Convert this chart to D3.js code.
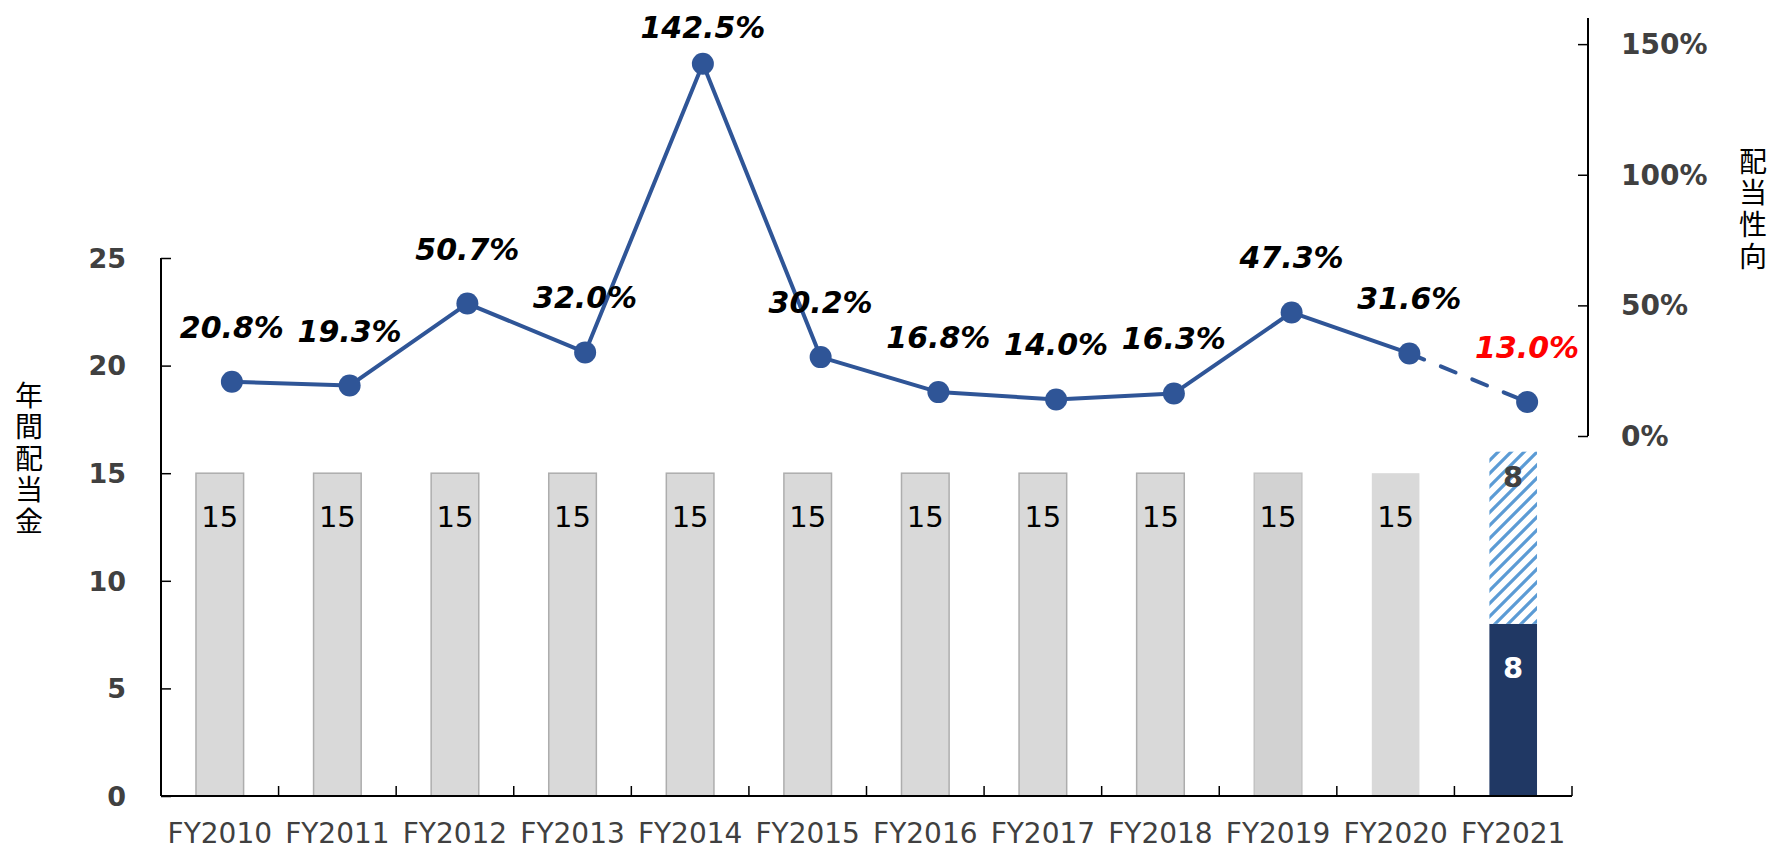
<!DOCTYPE html>
<html>
<head>
<meta charset="utf-8">
<script src="https://cdn.jsdelivr.net/npm/d3@7/dist/d3.min.js"></script>
<style>
  html, body { margin: 0; padding: 0; background: #fff; }
  svg { display: block; font-family: "DejaVu Sans", Verdana, sans-serif; }
</style>
</head>
<body>
<svg id="chart" width="1774" height="850"></svg>
<script>
// ---- data ----
const categories = ["FY2010","FY2011","FY2012","FY2013","FY2014","FY2015","FY2016","FY2017","FY2018","FY2019","FY2020","FY2021"];
const dividendPaid = [15,15,15,15,15,15,15,15,15,15,15,8];
const dividendForecast = [0,0,0,0,0,0,0,0,0,0,0,8];
const payoutRatio = [20.8,19.3,50.7,32.0,142.5,30.2,16.8,14.0,16.3,47.3,31.6,13.0];
const leftTicks = [0,5,10,15,20,25];
const rightTicks = [0,50,100,150];
const leftTitle = "年間配当金";
const rightTitle = "配当性向";

// ---- layout ----
const svg = d3.select("#chart");
const x = d3.scaleBand().domain(categories).range([161, 1572]).paddingInner(0).paddingOuter(0);
// secondary category scale used by the line series (slightly shifted, as in the original)
const x2 = d3.scaleBand().domain(categories).range([173, 1586]).paddingInner(0).paddingOuter(0);
const yL = d3.scaleLinear().domain([0, 25]).range([796, 258]);
const yR = d3.scaleLinear().domain([0, 160]).range([436, 18]);
const barW = x.bandwidth() * 0.405;
const cx = d => x(d) + x.bandwidth() / 2;
const cx2 = d => x2(d) + x2.bandwidth() / 2;

// hatch pattern
const defs = svg.append("defs");
const pat = defs.append("pattern").attr("id", "hatch").attr("patternUnits", "userSpaceOnUse")
  .attr("width", 13).attr("height", 13);
pat.append("rect").attr("width", 13).attr("height", 13).attr("fill", "#fff");
pat.append("path").attr("d", "M-4,4 L4,-4 M0,13 L13,0 M9,17 L17,9")
  .attr("stroke", "#5b9bd5").attr("stroke-width", 3.2);

// bar styles (by category)
function barFill(c, i) {
  if (i === categories.length - 1) return "#203864";
  if (c === "FY2019") return "#d2d2d2";
  return "#d9d9d9";
}
function barStroke(c, i) {
  if (i === categories.length - 1) return "none";
  if (c === "FY2020") return "none";
  if (c === "FY2019") return "#c3c3c3";
  return "#adadad";
}

// bars: paid
svg.append("g").selectAll("rect").data(categories).join("rect")
  .attr("x", d => cx(d) - barW / 2)
  .attr("y", (d, i) => yL(dividendPaid[i]))
  .attr("width", barW)
  .attr("height", (d, i) => yL(0) - yL(dividendPaid[i]))
  .attr("fill", barFill)
  .attr("stroke", barStroke)
  .attr("stroke-width", 1.5);

// bars: forecast (hatched)
svg.append("g").selectAll("rect").data(categories.filter((c, i) => dividendForecast[i] > 0)).join("rect")
  .attr("x", d => cx(d) - barW / 2)
  .attr("y", d => { const i = categories.indexOf(d); return yL(dividendPaid[i] + dividendForecast[i]); })
  .attr("width", barW)
  .attr("height", d => { const i = categories.indexOf(d); return yL(dividendPaid[i]) - yL(dividendPaid[i] + dividendForecast[i]); })
  .attr("fill", "url(#hatch)");

// bar labels
svg.append("g").selectAll("text").data(categories).join("text")
  .attr("x", cx)
  .attr("y", (d, i) => yL(dividendPaid[i]) + 54)
  .attr("text-anchor", "middle")
  .attr("font-size", 29)
  .attr("font-weight", (d, i) => i === categories.length - 1 ? "bold" : "normal")
  .attr("fill", (d, i) => i === categories.length - 1 ? "#ffffff" : "#000000")
  .text((d, i) => dividendPaid[i]);

svg.append("g").selectAll("text").data(categories.filter((c, i) => dividendForecast[i] > 0)).join("text")
  .attr("x", cx)
  .attr("y", d => { const i = categories.indexOf(d); return yL(dividendPaid[i] + dividendForecast[i]) + 35; })
  .attr("text-anchor", "middle")
  .attr("font-size", 29)
  .attr("font-weight", "bold")
  .attr("fill", "#404040")
  .text(d => dividendForecast[categories.indexOf(d)]);

// ---- axes ----
const axisColor = "#000";
// left axis
const gL = svg.append("g").attr("transform", "translate(161,0)")
  .call(d3.axisRight(yL).tickValues(leftTicks).tickSize(10).tickFormat(""));
gL.select(".domain").attr("d", `M0,${yL(25)}V${yL(0)}`).attr("stroke", axisColor).attr("stroke-width", 2);
gL.selectAll(".tick line").attr("stroke", axisColor).attr("stroke-width", 1.5);
svg.append("g").selectAll("text").data(leftTicks).join("text")
  .attr("x", 126).attr("y", d => yL(d)).attr("dy", "0.36em")
  .attr("text-anchor", "end").attr("font-size", 27).attr("font-weight", "bold").attr("fill", "#404040")
  .text(d => d);

// right axis
const gR = svg.append("g").attr("transform", "translate(1588,0)")
  .call(d3.axisLeft(yR).tickValues(rightTicks).tickSize(10).tickFormat(""));
gR.select(".domain").attr("d", `M0,${yR(160)}V${yR(0)}`).attr("stroke", axisColor).attr("stroke-width", 2);
gR.selectAll(".tick line").attr("stroke", axisColor).attr("stroke-width", 1.5);
svg.append("g").selectAll("text").data(rightTicks).join("text")
  .attr("x", 1621).attr("y", d => yR(d)).attr("dy", "0.36em")
  .attr("text-anchor", "start").attr("font-size", 28).attr("font-weight", "bold").attr("fill", "#404040")
  .text(d => d + "%");

// bottom axis
const boundaries = categories.slice(1).map(c => x(c)).concat([x.range()[1]]);
const gB = svg.append("g");
gB.append("path").attr("d", `M161,${yL(0)}H${x.range()[1]}`).attr("stroke", axisColor).attr("stroke-width", 2).attr("fill", "none");
gB.selectAll("line").data(boundaries).join("line")
  .attr("x1", d => d).attr("x2", d => d)
  .attr("y1", yL(0)).attr("y2", yL(0) - 10)
  .attr("stroke", axisColor).attr("stroke-width", 1.5);
gB.selectAll("text").data(categories).join("text")
  .attr("x", cx).attr("y", 843)
  .attr("text-anchor", "middle").attr("font-size", 28).attr("fill", "#404040")
  .text(d => d);

// axis titles (vertical writing)
svg.append("text")
  .attr("x", 29).attr("y", 381)
  .style("writing-mode", "vertical-rl").style("text-orientation", "upright")
  .attr("letter-spacing", 3.5)
  .attr("font-size", 28).attr("font-family", "'Noto Sans CJK JP', sans-serif").attr("fill", "#000")
  .text(leftTitle);
svg.append("text")
  .attr("x", 1753).attr("y", 147)
  .style("writing-mode", "vertical-rl").style("text-orientation", "upright")
  .attr("letter-spacing", 3.7)
  .attr("font-size", 28).attr("font-family", "'Noto Sans CJK JP', sans-serif").attr("fill", "#000")
  .text(rightTitle);

// ---- line ----
const lineColor = "#2f5597";
const pts = categories.map((c, i) => [cx2(c), yR(payoutRatio[i])]);
const line = d3.line();
svg.append("path").attr("d", line(pts.slice(0, pts.length - 1)))
  .attr("fill", "none").attr("stroke", lineColor).attr("stroke-width", 4).attr("stroke-linejoin", "round");
svg.append("path").attr("d", line(pts.slice(pts.length - 2)))
  .attr("fill", "none").attr("stroke", lineColor).attr("stroke-width", 4)
  .attr("stroke-dasharray", "16,18").attr("stroke-linecap", "round");
svg.append("g").selectAll("circle").data(pts).join("circle")
  .attr("cx", d => d[0]).attr("cy", d => d[1]).attr("r", 11).attr("fill", lineColor);

// line labels
svg.append("g").selectAll("text").data(categories).join("text")
  .attr("x", cx2)
  .attr("y", (d, i) => yR(payoutRatio[i]) - (payoutRatio[i] > 100 ? 26 : 44))
  .attr("text-anchor", "middle")
  .attr("font-size", 30).attr("font-weight", "bold").attr("font-style", "italic")
  .attr("fill", (d, i) => i === categories.length - 1 ? "#ff0000" : "#000")
  .text((d, i) => payoutRatio[i].toFixed(1) + "%");
</script>
</body>
</html>
